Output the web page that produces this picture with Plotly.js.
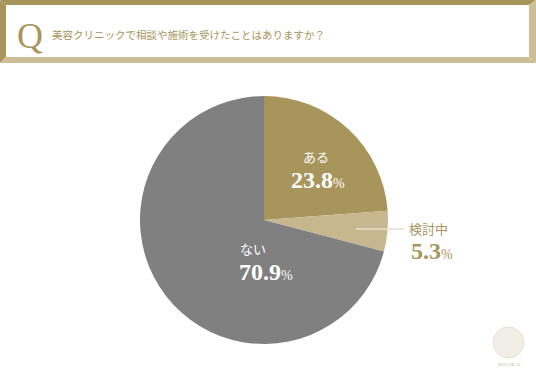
<!DOCTYPE html>
<html>
<head>
<meta charset="utf-8">
<script src="https://cdn.plot.ly/plotly-3.0.1.min.js"></script>
<style>html,body{margin:0;padding:0;background:#fff;}#chart{width:536px;height:383px;}</style>
</head>
<body>
<div id="chart"></div>
<script>
const question = "美容クリニックで相談や施術を受けたことはありますか？";
const categories = ["ある", "検討中", "ない"];
const values = [23.8, 5.3, 70.9];
const sliceColors = ["#A8955C", "#C6B78E", "#808080"];

const W = 536, H = 383;
const X = p => p / W;
const Y = p => 1 - p / H;
function poly(pts, color) {
  return {type: "path", xref: "paper", yref: "paper",
    path: "M" + pts.map(p => X(p[0]) + "," + Y(p[1])).join("L") + "Z",
    fillcolor: color, line: {width: 0}, layer: "below"};
}
const dark = "#A8955C", light = "#CDBF95";
const shapes = [
  poly([[0,0],[536,0],[529,5],[6,5]], dark),
  poly([[0,0],[6,5],[6,57],[0,63]], dark),
  poly([[0,63],[6,57],[529,57],[536,63]], light),
  poly([[536,0],[529,5],[529,57],[536,63]], light),
  {type: "line", xref: "paper", yref: "paper", x0: X(356), x1: X(404), y0: Y(229), y1: Y(229),
   line: {color: "#E6DFCB", width: 1.5}},
  {type: "circle", xref: "paper", yref: "paper", x0: X(493), x1: X(524), y0: Y(358), y1: Y(327),
   fillcolor: "#F1EEE5", line: {color: "#E6E0CF", width: 1}}
];

const serif = "Liberation Serif, DejaVu Serif, serif";
const jp = "Noto Sans CJK JP, sans-serif";
function ann(x, y, text, size, color, font, anchor) {
  return {xref: "paper", yref: "paper", x: X(x), y: Y(y), text: text, showarrow: false,
    xanchor: anchor || "center", yanchor: "middle", font: {size: size, color: color, family: font}};
}
function pct(v) { return "<b>" + v.toFixed(1) + "</b><span style='font-size:14px'>%</span>"; }

const annotations = [
  ann(30, 36, "Q", 36, dark, serif),
  ann(50, 34, question, 10.5, dark, jp, "left"),
  ann(316, 157, categories[0], 13, "#FFFFFF", jp),
  ann(318, 180, pct(values[0]), 24, "#FFFFFF", serif),
  ann(428, 228, categories[1], 13, dark, jp),
  ann(432, 251, pct(values[1]), 24, dark, serif),
  ann(253, 248, categories[2], 13, "#FFFFFF", jp),
  ann(266, 272, pct(values[2]), 24, "#FFFFFF", serif),
  ann(509, 364, "KEIAIKAI", 5, "#C8BC9A", serif)
];

const data = [{
  type: "pie",
  labels: categories,
  values: values,
  sort: false,
  direction: "clockwise",
  rotation: 0,
  marker: {colors: sliceColors, line: {width: 0}},
  textinfo: "none",
  hoverinfo: "none",
  domain: {x: [X(140), X(388)], y: [Y(344), Y(96)]}
}];

const layout = {
  width: W, height: H,
  margin: {l: 0, r: 0, t: 0, b: 0},
  paper_bgcolor: "#FFFFFF",
  showlegend: false,
  shapes: shapes,
  annotations: annotations
};
Plotly.newPlot("chart", data, layout, {staticPlot: true});
</script>
</body>
</html>
